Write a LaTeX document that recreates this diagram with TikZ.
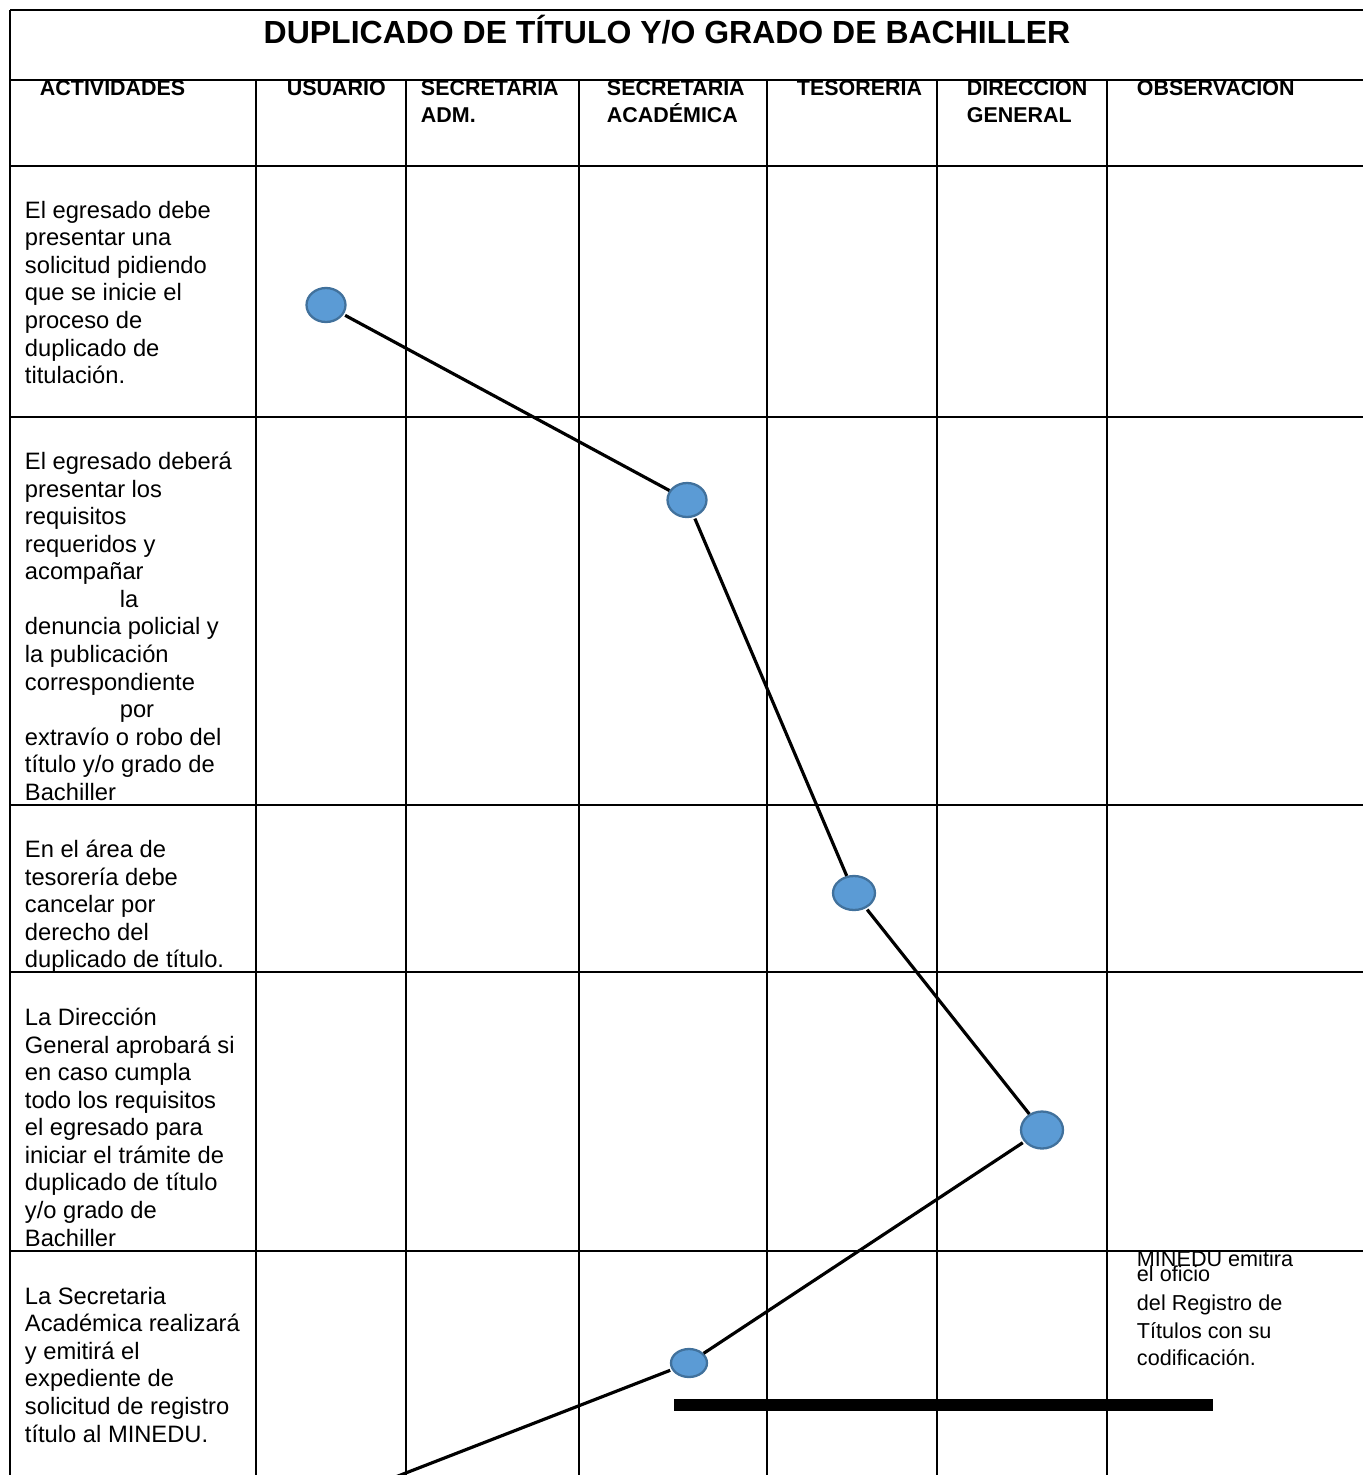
\documentclass[tikz,border=0pt]{standalone}
\usepackage{fontspec}
\setmainfont{Liberation Sans}
\usetikzlibrary{shapes.geometric}
\usetikzlibrary{positioning}
\definecolor{pasoazul}{HTML}{5B9BD5}
\definecolor{bordeazul}{HTML}{41719C}

\begin{document}
\begin{tikzpicture}[x=0.02cm, y=-0.02cm, line width=1.1pt,
		paso/.style={ellipse, draw=bordeazul, line width=1.3pt, fill=pasoazul, minimum width=0.78cm, minimum height=0.68cm, inner sep=0pt},
		conector/.style={line width=1.8pt, shorten <=1pt},
		celda/.style={anchor=north west, align=left, inner sep=0pt, font=\fontsize{13.5}{15.7}\selectfont},
		cabecera/.style={anchor=north west, align=left, inner sep=0pt, font=\fontsize{12.2}{15.3}\selectfont\bfseries}]
		\useasboundingbox (0,0) rectangle (1363,1475);
		\clip (0,0) rectangle (1363,1475);

		% titulo
		\node[anchor=base, inner sep=0pt, font=\fontsize{18.2}{22}\selectfont\bfseries] (titulo) at (667,43) {DUPLICADO DE TÍTULO Y/O GRADO DE BACHILLER};

		% cabeceras
		\node[cabecera] (hact) at (39,80) {ACTIVIDADES};
		\node[cabecera] (husu) at (286,80) {USUARIO};
		\node[cabecera] (hadm) at (420,80) {SECRETARIA\\ADM.};
		\node[cabecera] (haca) at (606,80) {SECRETARIA\\ACADÉMICA};
		\node[cabecera] (htes) at (796,80) {TESORERIA};
		\node[cabecera] (hdir) at (966,80) {DIRECCION\\GENERAL};
		\node[cabecera] (hobs) at (1136,80) {OBSERVACION};

		% rejilla
		\draw (10,10) -- (1363,10);
		\draw (10,10) -- (10,1475);
		\draw (10,80) -- (1363,80);
		\draw (10,166) -- (1363,166);
		\foreach \y in {417, 805, 972, 1251}
			\draw (10,\y) -- (1363,\y);
		\foreach \x in {256, 406, 579, 767, 937, 1107}
			\draw (\x,80) -- (\x,1475);

		% actividades
		\node[celda] (act1) at (24,200) {El egresado debe\\presentar una\\solicitud pidiendo\\que se inicie el\\proceso de\\duplicado de\\titulación.};
		\node[celda] (act2) at (24,451) {El egresado deberá\\presentar los\\requisitos\\requeridos y\\acompañar\\\hspace*{54pt}la\\denuncia policial y\\la publicación\\correspondiente\\\hspace*{54pt}por\\extravío o robo del\\título y/o grado de\\Bachiller};
		\node[celda] (act3) at (24,839) {En el área de\\tesorería debe\\cancelar por\\derecho del\\duplicado de título.};
		\node[celda] (act4) at (24,1007) {La Dirección\\General aprobará si\\en caso cumpla\\todo los requisitos\\el egresado para\\iniciar el trámite de\\duplicado de título\\y/o grado de\\Bachiller};
		\node[celda] (act5) at (24,1286) {La Secretaria\\Académica realizará\\y emitirá el\\expediente de\\solicitud de registro\\título al MINEDU.};

		% observacion
		\node[anchor=base west, inner sep=0pt, font=\fontsize{12.3}{15.6}\selectfont] (obs1) at (1136,1266) {MINEDU emitira};
		\node[celda, anchor=base west, font=\fontsize{12.3}{15.6}\selectfont] (obs2) at (1136,1281) {el oficio};
		\node[celda, font=\fontsize{12.3}{15.6}\selectfont] (obs3) at (1136,1294) {del Registro de\\Títulos con su\\codificación.};
		\draw (1107,1251) -- (1363,1251);

		% pasos
		\node[paso] (u1) at (326,305) {};
		\node[paso] (a2) at (687,500) {};
		\node[paso, minimum width=0.84cm] (t3) at (854,893) {};
		\node[paso, minimum width=0.84cm, minimum height=0.74cm] (d4) at (1042,1130) {};
		\node[paso, minimum width=0.72cm, minimum height=0.56cm] (a5) at (689,1363) {};
		\coordinate (fin) at (380,1483);

		\draw[conector] (u1) -- (a2);
		\draw[conector] (a2) -- (t3);
		\draw[conector] (t3) -- (d4);
		\draw[conector] (d4) -- (a5);
		\draw[conector] (a5) -- (fin);

		% barra
		\draw[line width=6.8pt] (674,1405) -- (1213,1405);
	\end{tikzpicture}
\end{document}
